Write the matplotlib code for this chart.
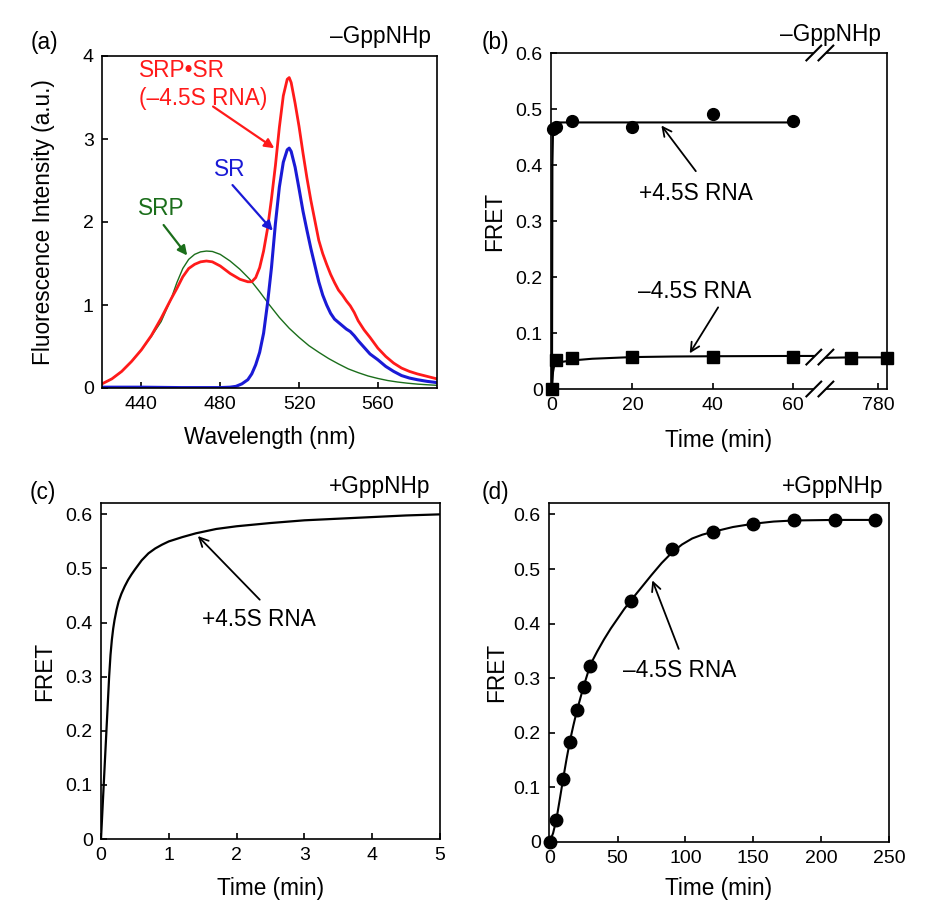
import numpy as np
import matplotlib
matplotlib.use('Agg')
import matplotlib.pyplot as plt
from matplotlib.patches import Polygon
from matplotlib.lines import Line2D
from matplotlib.ticker import FuncFormatter, FixedLocator

plt.rcParams['font.family'] = ['Liberation Sans', 'DejaVu Sans']
plt.rcParams['axes.linewidth'] = 1.2

# ---- (a) emission spectra ----
wl_srp = [420, 425, 430, 435, 440, 445, 450, 455, 458, 461, 464, 467, 470, 473,
          476, 480, 485, 490, 495, 500, 505, 510, 515, 520, 525, 530, 535, 540,
          545, 550, 555, 560, 565, 570, 575, 580, 585, 590]
fl_srp = [0.05, 0.11, 0.20, 0.32, 0.46, 0.62, 0.80, 1.07, 1.27, 1.44, 1.55, 1.61,
          1.64, 1.65, 1.645, 1.61, 1.53, 1.43, 1.31, 1.16, 1.00, 0.85, 0.72, 0.61,
          0.51, 0.43, 0.355, 0.29, 0.23, 0.185, 0.145, 0.115, 0.09, 0.072, 0.058,
          0.047, 0.039, 0.032]

wl_complex = [420, 425, 430, 435, 440, 445, 450, 455, 458, 461, 464, 467, 470,
              473, 476, 480, 485, 490, 494, 496, 498, 500, 502, 504, 506, 508,
              510, 512, 514, 515, 516, 518, 520, 522, 524, 526, 528, 530, 532,
              534, 536, 538, 540, 542, 544, 546, 548, 550, 553, 556, 560, 564,
              568, 572, 576, 580, 585, 590]
fl_complex = [0.05, 0.11, 0.20, 0.32, 0.46, 0.63, 0.84, 1.07, 1.20, 1.34, 1.44,
              1.49, 1.52, 1.53, 1.52, 1.47, 1.38, 1.31, 1.28, 1.28, 1.33, 1.45,
              1.65, 1.92, 2.28, 2.68, 3.14, 3.52, 3.72, 3.74, 3.68, 3.43, 3.15,
              2.83, 2.53, 2.26, 2.02, 1.78, 1.62, 1.49, 1.37, 1.27, 1.18, 1.12,
              1.05, 0.99, 0.91, 0.81, 0.70, 0.61, 0.48, 0.38, 0.30, 0.24, 0.20,
              0.17, 0.14, 0.11]

wl_sr = [420, 440, 460, 480, 485, 488, 491, 494, 496, 498, 500, 502, 504, 506,
         508, 510, 512, 514, 515, 516, 518, 520, 522, 524, 526, 528, 530, 532,
         534, 536, 538, 540, 542, 544, 546, 548, 550, 553, 556, 560, 564, 568,
         572, 576, 580, 585, 590]
fl_sr = [0.01, 0.01, 0.005, 0.005, 0.01, 0.02, 0.05, 0.10, 0.17, 0.28, 0.43,
         0.66, 1.02, 1.45, 1.98, 2.42, 2.72, 2.87, 2.89, 2.85, 2.66, 2.40, 2.13,
         1.90, 1.68, 1.48, 1.28, 1.12, 1.00, 0.90, 0.83, 0.79, 0.75, 0.71, 0.68,
         0.63, 0.57, 0.49, 0.41, 0.34, 0.26, 0.20, 0.15, 0.12, 0.10, 0.08, 0.065]

# ---- (b) -GppNHp FRET time courses ----
t_plus_pts = [0.25, 1, 5, 20, 40, 60]
fret_plus_pts = [0.464, 0.467, 0.479, 0.467, 0.491, 0.479]
t_plus_fit = [0, 0.1, 0.25, 0.5, 1, 60]
fret_plus_fit = [0, 0.40, 0.46, 0.474, 0.476, 0.476]

t_minus_pts = [0, 1, 5, 20, 40, 60, 720, 800]
fret_minus_pts = [0, 0.052, 0.055, 0.057, 0.058, 0.058, 0.056, 0.056]
t_minus_fit = [0, 0.25, 0.5, 1, 2, 5, 10, 20, 30, 40, 60, 66, 651, 720, 800]
fret_minus_fit = [0, 0.03, 0.04, 0.045, 0.048, 0.051, 0.054, 0.057, 0.058,
                  0.0585, 0.059, 0.059, 0.0555, 0.0565, 0.0565]
b_xticks = [0, 20, 40, 60, 780]

# ---- (c) +GppNHp, +4.5S RNA ----
t_c = [0, 0.02, 0.04, 0.06, 0.08, 0.1, 0.12, 0.14, 0.16, 0.18, 0.2, 0.23, 0.26,
       0.3, 0.35, 0.4, 0.45, 0.5, 0.6, 0.7, 0.8, 0.9, 1.0, 1.2, 1.4, 1.7, 2.0,
       2.5, 3.0, 3.5, 4.0, 4.5, 5.0]
fret_c = [0, 0.05, 0.10, 0.15, 0.20, 0.25, 0.30, 0.34, 0.368, 0.389, 0.405,
          0.424, 0.439, 0.453, 0.467, 0.479, 0.489, 0.498, 0.515, 0.528, 0.537,
          0.544, 0.550, 0.558, 0.565, 0.573, 0.578, 0.584, 0.589, 0.592, 0.595,
          0.598, 0.600]

# ---- (d) +GppNHp, -4.5S RNA ----
t_d_pts = [0, 5, 10, 15, 20, 25, 30, 60, 90, 120, 150, 180, 210, 240]
fret_d_pts = [0, 0.04, 0.116, 0.184, 0.241, 0.284, 0.323, 0.442, 0.536, 0.568,
              0.583, 0.589, 0.590, 0.589]
t_d_fit = [0, 2.5, 5, 7.5, 10, 12.5, 15, 17.5, 20, 25, 30, 35, 40, 45, 50, 55,
           60, 67.5, 75, 82.5, 90, 97.5, 105, 112.5, 120, 135, 150, 165, 180,
           210, 240]
fret_d_fit = [0, 0.016, 0.042, 0.079, 0.117, 0.153, 0.186, 0.214, 0.240, 0.285,
              0.325, 0.349, 0.371, 0.391, 0.409, 0.427, 0.443, 0.466, 0.489,
              0.511, 0.530, 0.545, 0.556, 0.563, 0.568, 0.577, 0.583, 0.587,
              0.589, 0.590, 0.590]

RED = '#ff1a1a'
BLUE = '#1a1ad6'
GREEN = '#1b6e1b'
FS = 16.3
TS = 14


def zero_fmt(v, pos):
    return '0' if abs(v) < 1e-9 else '%g' % v


def style(ax):
    ax.tick_params(direction='in', length=4, width=1.2, labelsize=TS, pad=6,
                   top=False, right=False)
    ax.yaxis.set_major_formatter(FuncFormatter(zero_fmt))


fig = plt.figure(figsize=(9.33, 9.18), dpi=100)
W, H = 933.0, 918.0


def add_axes(left, top, right, bottom):
    return fig.add_axes([left / W, 1 - bottom / H, (right - left) / W, (bottom - top) / H])


def ftext(x, y, s, **kw):
    fig.text(x / W, 1 - y / H, s, fontsize=FS, va='center', **kw)


# ---------------- panel (a) ----------------
ax = add_axes(102, 56, 437, 388)
ax.plot(wl_srp, fl_srp, color=GREEN, lw=1.0)
ax.plot(wl_sr, fl_sr, color=BLUE, lw=2.2)
ax.plot(wl_complex, fl_complex, color=RED, lw=2.0)
ax.set_xlim(420, 590)
ax.set_ylim(0, 4)
ax.set_xticks([440, 480, 520, 560])
ax.set_yticks([0, 1, 2, 3, 4])
style(ax)
ax.set_xlabel('Wavelength (nm)', fontsize=FS)
ax.set_ylabel('Fluorescence Intensity (a.u.)', fontsize=FS)
ax.xaxis.set_label_coords(0.5, -0.115)
ax.yaxis.set_label_coords(-0.14, 0.5)
ax.text(438.7, 3.83, 'SRP\u2022SR', color=RED, fontsize=FS, va='center')
ax.text(438.7, 3.49, '(\u20134.5S RNA)', color=RED, fontsize=FS, va='center')
ax.annotate('', xy=(508.6, 2.87), xytext=(475.2, 3.41),
            arrowprops=dict(arrowstyle='-|>', color=RED, lw=1.6, mutation_scale=14))
ax.text(476.7, 2.63, 'SR', color=BLUE, fontsize=FS, va='center')
ax.annotate('', xy=(507.6, 1.87), xytext=(485.3, 2.47),
            arrowprops=dict(arrowstyle='-|>', color=BLUE, lw=1.6, mutation_scale=14))
ax.text(438.2, 2.16, 'SRP', color=GREEN, fontsize=FS, va='center')
ax.annotate('', xy=(464.1, 1.57), xytext=(450.4, 1.99),
            arrowprops=dict(arrowstyle='-|>', color=GREEN, lw=1.6, mutation_scale=14))
ftext(44, 43, '(a)', ha='center')
ftext(431, 37, '\u2013GppNHp', ha='right')

# ---------------- panel (b) ----------------
# broken time axis: 0-66 min linear, then a jump to the late time point
knots_t = [-1e4, 66.6, 651.0, 1e5]
knots_u = [-1e4, 66.6, 66.7, 66.7 + (1e5 - 651.0) * 0.1118]


def fwd(t):
    return np.interp(t, knots_t, knots_u)


def inv(u):
    return np.interp(u, knots_u, knots_t)


ax = add_axes(551, 53, 887, 389)
ax.set_xscale('function', functions=(fwd, inv))
ax.plot(t_plus_fit, fret_plus_fit, color='k', lw=1.5)
ax.plot(t_minus_fit, fret_minus_fit, color='k', lw=1.5)
ax.plot(t_plus_pts, fret_plus_pts, 'o', color='k', ms=8.5, clip_on=False, zorder=4)
ax.plot(t_minus_pts, fret_minus_pts, 's', color='k', ms=9, clip_on=False, zorder=4)
ax.set_xlim(-0.25, 800)
ax.set_ylim(0, 0.6)
ax.xaxis.set_major_locator(FixedLocator(b_xticks))
ax.xaxis.set_minor_locator(FixedLocator([]))
ax.set_xticklabels([str(v) for v in b_xticks])
ax.set_yticks(np.arange(0, 0.61, 0.1))
style(ax)
ax.set_xlabel('Time (min)', fontsize=FS)
ax.set_ylabel('FRET', fontsize=FS)
ax.xaxis.set_label_coords(0.5, -0.118)
ax.yaxis.set_label_coords(-0.135, 0.5)


def axes_frac(ax, x, y):
    disp = ax.transData.transform((x, y))
    return ax.transAxes.inverted().transform(disp)


def draw_break(ax, xc, yc, h=0.022, g=0.018):
    poly = Polygon([(xc - g - h, yc - h), (xc - g + h, yc + h),
                    (xc + g + h, yc + h), (xc + g - h, yc - h)],
                   closed=True, facecolor='white', edgecolor='none',
                   transform=ax.transAxes, clip_on=False, zorder=6)
    ax.add_patch(poly)
    for s in (-g, g):
        ax.add_line(Line2D([xc + s - h, xc + s + h], [yc - h, yc + h], color='k',
                           lw=1.5, transform=ax.transAxes, clip_on=False, zorder=7))


xb, yb = axes_frac(ax, 358.0, 0.057)
draw_break(ax, xb, 1.0)
draw_break(ax, xb, 0.0)
draw_break(ax, xb, yb)

ax.text(21.6, 0.35, '+4.5S RNA', fontsize=FS, va='center')
ax.annotate('', xy=(26.8, 0.4745), xytext=(36.2, 0.385),
            arrowprops=dict(arrowstyle='->', color='k', lw=1.3, mutation_scale=16))
ax.text(21.4, 0.174, '\u20134.5S RNA', fontsize=FS, va='center')
ax.annotate('', xy=(33.9, 0.0595), xytext=(41.7, 0.15),
            arrowprops=dict(arrowstyle='->', color='k', lw=1.3, mutation_scale=16))
ftext(495, 42, '(b)', ha='center')
ftext(881, 35, '\u2013GppNHp', ha='right')

# ---------------- panel (c) ----------------
ax = add_axes(101, 503, 440, 839)
ax.plot(t_c, fret_c, color='k', lw=1.6)
ax.set_xlim(0, 5)
ax.set_ylim(0, 0.621)
ax.set_xticks([0, 1, 2, 3, 4, 5])
ax.set_yticks(np.arange(0, 0.61, 0.1))
style(ax)
ax.set_xlabel('Time (min)', fontsize=FS)
ax.set_ylabel('FRET', fontsize=FS)
ax.xaxis.set_label_coords(0.5, -0.113)
ax.yaxis.set_label_coords(-0.133, 0.5)
ax.text(1.485, 0.405, '+4.5S RNA', fontsize=FS, va='center')
ax.annotate('', xy=(1.40, 0.5636), xytext=(2.37, 0.4386),
            arrowprops=dict(arrowstyle='->', color='k', lw=1.3, mutation_scale=16))
ftext(43, 492, '(c)', ha='center')
ftext(430, 486, '+GppNHp', ha='right')

# ---------------- panel (d) ----------------
ax = add_axes(549, 503, 889, 842)
ax.plot(t_d_fit, fret_d_fit, color='k', lw=1.5)
ax.plot(t_d_pts, fret_d_pts, 'o', color='k', ms=9, clip_on=False, zorder=4)
ax.set_xlim(-0.5, 250)
ax.set_ylim(0, 0.621)
ax.set_xticks([0, 50, 100, 150, 200, 250])
ax.set_yticks(np.arange(0, 0.61, 0.1))
style(ax)
ax.set_xlabel('Time (min)', fontsize=FS)
ax.set_ylabel('FRET', fontsize=FS)
ax.xaxis.set_label_coords(0.5, -0.103)
ax.yaxis.set_label_coords(-0.12, 0.5)
ax.text(54, 0.315, '\u20134.5S RNA', fontsize=FS, va='center')
ax.annotate('', xy=(74.9, 0.484), xytext=(95.8, 0.349),
            arrowprops=dict(arrowstyle='->', color='k', lw=1.3, mutation_scale=16))
ftext(495, 492, '(d)', ha='center')
ftext(883, 486, '+GppNHp', ha='right')

fig.savefig('out.png', dpi=100)
